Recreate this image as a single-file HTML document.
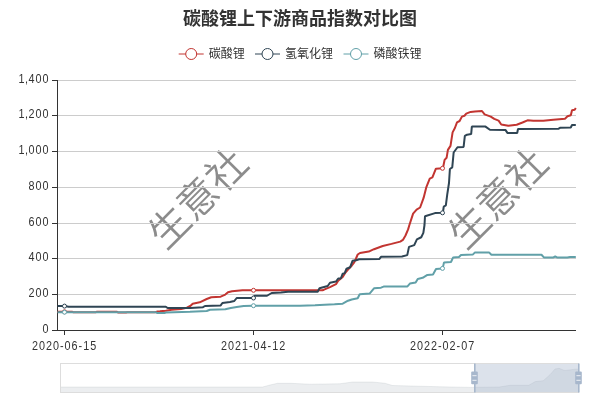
<!DOCTYPE html>
<html lang="zh">
<head>
<meta charset="utf-8">
<title>碳酸锂上下游商品指数对比图</title>
<style>
html,body{margin:0;padding:0;background:#fff;}
body{width:600px;height:400px;overflow:hidden;position:relative;}
svg{position:absolute;left:0;top:0;display:block;}
text{font-family:"Liberation Sans","Noto Sans CJK SC",sans-serif;}
.cjk{font-family:"Noto Sans CJK SC","Liberation Sans",sans-serif;}
.ax{font-size:12px;fill:#333;font-family:"Noto Sans CJK SC","Liberation Sans",sans-serif;}
</style>
</head>
<body>
<svg width="600" height="400" viewBox="0 0 600 400">
<rect width="600" height="400" fill="#fff"/>
<!-- title -->
<text class="cjk" x="300" y="25" text-anchor="middle" font-size="18" font-weight="bold" fill="#333">碳酸锂上下游商品指数对比图</text>
<!-- legend -->
<g id="legend" font-size="12" fill="#333">
  <g stroke="#c23531" stroke-width="1" fill="#fff"><path d="M178.700 54H203.700"/><circle cx="191.200" cy="54" r="5.500"/></g>
  <text class="cjk" x="208.700" y="58">碳酸锂</text>
  <g stroke="#2f4554" stroke-width="1" fill="#fff"><path d="M255 54H280"/><circle cx="267.500" cy="54" r="5.500"/></g>
  <text class="cjk" x="285" y="58">氢氧化锂</text>
  <g stroke="#61a0a8" stroke-width="1" fill="#fff"><path d="M343.500 54H368.500"/><circle cx="356" cy="54" r="5.500"/></g>
  <text class="cjk" x="373.500" y="58">磷酸铁锂</text>
</g>
<!-- watermark -->
<g id="wm" class="cjk" font-size="40" font-weight="350" fill="#808080" fill-opacity="0.9">
  <text transform="translate(208,208.5) rotate(-45)" text-anchor="middle">生意社</text>
  <text transform="translate(508,208.5) rotate(-45)" text-anchor="middle">生意社</text>
</g>
<!-- grid -->
<g id="grid" stroke="#ccc" stroke-width="1" shape-rendering="crispEdges">
  <path d="M58 80.5H576M58 115.5H576M58 151.5H576M58 187.5H576M58 223.5H576M58 258.5H576M58 294.5H576"/>
</g>
<!-- axes -->
<g id="axes" stroke="#333" stroke-width="1" shape-rendering="crispEdges">
  <path d="M57.5 80V330M57 330.5H576"/>
  <path d="M52 80.5H57M52 115.5H57M52 151.5H57M52 187.5H57M52 223.5H57M52 258.5H57M52 294.5H57M52 330.5H57"/>
  <path d="M64.500 330V335M253.500 330V335M442.500 330V335"/>
</g>
<g class="ax" text-anchor="end" transform="scale(0.9,1)" style="letter-spacing:1.12px">
  <text x="55.12" y="83">1<tspan dx="-0.5">,</tspan><tspan dx="-0.6">4</tspan>00</text>
  <text x="55.12" y="118">1<tspan dx="-0.5">,</tspan><tspan dx="-0.6">2</tspan>00</text>
  <text x="55.12" y="154">1<tspan dx="-0.5">,</tspan><tspan dx="-0.6">0</tspan>00</text>
  <text x="55.12" y="190">800</text>
  <text x="55.12" y="226">600</text>
  <text x="55.12" y="261">400</text>
  <text x="55.12" y="297">200</text>
  <text x="55.12" y="333">0</text>
</g>
<g class="ax" text-anchor="middle" transform="scale(0.9,1)" style="letter-spacing:1.12px">
  <text x="71.79" y="350">2020-06-15</text>
  <text x="281.79" y="350">2021-04-12</text>
  <text x="491.79" y="350">2022-02-07</text>
</g>
<!-- series placeholder -->
<g id="series" fill="none" stroke-width="2" stroke-linejoin="bevel">
<path d="M57.5 311.75L72 311.75L73 312.2L96 312.2L97 311.75L117 311.75L118 312.6L126 312.6L127 312.2L155 312.2L157 311.6L160 311.3L165.8 310.7L171.7 309.7L181 308.9L186.8 307.75L190.3 306L192.7 303.7L199.7 302.3L206.7 299L211.3 297.25L220.7 296.7L225.3 294.6L228 292.25L232 291.3L242.5 290.3L318 290.2L322.5 290.3L324 289.7L330 287.2L336 284.2L338.2 280.7L342.7 277L345 273.2L348 269.5L351.7 265.7L354 262.7L355.8 259L357.7 254.5L360 253L368.75 251.6L374 249.2L382.75 246L391.5 243.9L400.25 241.6L402.9 239.9L405.5 235.5L408.1 229.4L409.4 225L413.1 213.6L416.6 209.6L420.1 207.5L423.6 197.9L426.25 187.4L429.75 178.6L432.4 177.4L435.9 168.65L442.6 168.3L443.3 166.5L444.6 159.9L446.6 157.8L447.9 149.9L450.5 145.85L452.6 132.4L454.9 128L457 122.4L459.6 121L461.9 116.6L464.5 115.75L466.25 113.65L470.6 111.9L475 111.4L482 111L484.6 114.35L490.75 116.6L494.25 118.9L498.6 120.65L501.25 124.5L508.3 125.8L516.7 124.7L522.5 122.5L527.5 120.3L533.3 120.8L543.3 120.8L553.3 119.7L565 118.7L567.5 116.3L570.8 115.3L572 110.3L574.7 109.7L575.8 108" stroke="#c23531"/>
<circle cx="64.5" cy="311.8" r="2" fill="#fff" stroke="#c23531" stroke-width="1"/>
<circle cx="253.5" cy="290.3" r="2" fill="#fff" stroke="#c23531" stroke-width="1"/>
<circle cx="442.5" cy="168.3" r="2" fill="#fff" stroke="#c23531" stroke-width="1"/>
<path d="M57.5 306.1L64.5 306.1L68.7 306.7L165.8 306.7L167.6 308L190.3 308L203 307.2L205 306L220.7 305.4L222.4 303L230 302L234.3 301L236.7 298L253.5 298L254.6 295.75L267 295.75L271.7 293L281 292.6L288 291.7L317.7 291.7L319.5 288.2L327.7 286L330 282.7L336 281.5L338.2 278.5L340.8 278.5L342.7 273.7L344.7 273.2L346.5 268.7L350.2 267.2L352.5 260.8L356.2 260.2L359.2 259.3L379.25 259.1L381 256.85L402 256.5L407.25 255.1L409 246.9L414.25 245.1L416.9 239.35L421.25 237.25L423.35 232.9L424.5 225L425 216.25L435 213.1L442.6 212.75L443.2 210.5L443.75 206.6L445.85 205.4L447.25 194.4L449 183L449.9 169L452.25 167.4L453.65 152.5L457.5 147.25L463.6 146.9L464.85 135.9L467.1 134.65L471.15 134.1L471.85 126.6L485.5 126.6L489.9 129.75L505.6 130.1L507.4 132.9L517.2 133L518 129L558.3 128.8L560 127.8L570.8 127.5L572 125L575.8 125" stroke="#2f4554"/>
<circle cx="64.5" cy="306.1" r="2" fill="#fff" stroke="#2f4554" stroke-width="1"/>
<circle cx="253.5" cy="298.0" r="2" fill="#fff" stroke="#2f4554" stroke-width="1"/>
<circle cx="442.5" cy="212.8" r="2" fill="#fff" stroke="#2f4554" stroke-width="1"/>
<path d="M57.5 312.2L156 312.2L157 313L165 313L166 312.4L190 311.8L206.7 311L210 309.7L225.3 309.3L230.8 308L236.7 307L243.7 306L253 305.7L300 305.8L315 305.2L334.5 304.3L342.7 303.7L348 300.7L351.7 299.5L357.7 298.3L359.7 294.2L369.6 293.6L374 288.35L381 287.65L383.6 286.6L407.25 286.6L409.9 283.6L415.65 282.4L417.75 278.9L422.65 277.85L427.4 274.9L433 274.4L436 269L442.7 268.4L444 262.4L451 262L453 257.6L459 257L461 255L473 254.4L475 252.4L489 252.4L491.4 254.8L541.5 254.8L543.9 257.4L553.4 257.4L555.2 256.5L557 257.4L567.2 257.4L570 257L575.8 257" stroke="#61a0a8"/>
<circle cx="64.5" cy="312.2" r="2" fill="#fff" stroke="#61a0a8" stroke-width="1"/>
<circle cx="253.5" cy="305.7" r="2" fill="#fff" stroke="#61a0a8" stroke-width="1"/>
<circle cx="442.5" cy="268.4" r="2" fill="#fff" stroke="#61a0a8" stroke-width="1"/>
</g>
<!-- datazoom -->
<g id="dz">
<rect x="60.5" y="363.5" width="518" height="29" fill="#fff"/>
<path d="M60.5 387L262.5 387L270 385L277.5 383.3L290 383.3L310 384.2L340 383.75L352.5 382L372.5 382L385 383.25L392.5 385.5L440 386.75L472.5 387.4L474.5 387.3L499.3 387L510 385.3L528.7 385.3L535.3 381.6L543.3 380.7L550 374.7L555 369L559 368.3L563.3 370L565 370.5L575 369.2L578.5 369L578.5 392.5L60.5 392.5Z" fill="#2f4554" fill-opacity="0.09"/>
<path d="M60.5 387L262.5 387L270 385L277.5 383.3L290 383.3L310 384.2L340 383.75L352.5 382L372.5 382L385 383.25L392.5 385.5L440 386.75L472.5 387.4L474.5 387.3L499.3 387L510 385.3L528.7 385.3L535.3 381.6L543.3 380.7L550 374.7L555 369L559 368.3L563.3 370L565 370.5L575 369.2L578.5 369" fill="none" stroke="#2f4554" stroke-opacity="0.15" stroke-width="0.6"/>
<rect x="474.5" y="363.5" width="104" height="29" fill="#a7b7cc" fill-opacity="0.4"/>
<rect x="60.5" y="363.5" width="518" height="29" fill="none" stroke="#ddd"/>
<path d="M474.8 363.5V392.5" stroke="#a7b7cc" stroke-width="1.6" fill="none"/><rect x="471.2" y="371.6" width="6.6" height="12.7" rx="1" fill="#a7b7cc"/><path d="M472.4 375.7H476.6M472.4 380.3H476.6" stroke="#fff" stroke-width="0.8" fill="none"/>
<path d="M578.8 363.5V392.5" stroke="#a7b7cc" stroke-width="1.6" fill="none"/><rect x="575.2" y="371.6" width="6.6" height="12.7" rx="1" fill="#a7b7cc"/><path d="M576.4 375.7H580.6M576.4 380.3H580.6" stroke="#fff" stroke-width="0.8" fill="none"/>
</g>
</svg>
</body>
</html>
